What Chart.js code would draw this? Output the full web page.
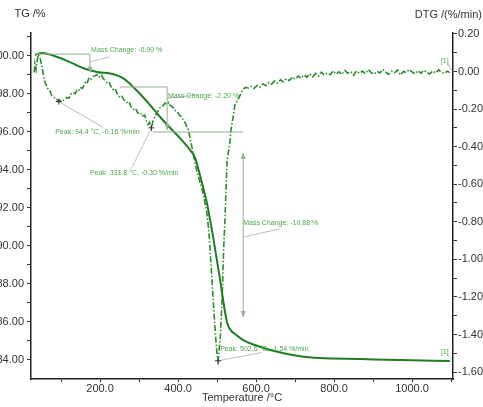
<!DOCTYPE html>
<html>
<head>
<meta charset="utf-8">
<script src="https://cdn.jsdelivr.net/npm/chart.js@4.4.1/dist/chart.umd.min.js"></script>
<style>
  html, body { margin: 0; padding: 0; background: #fff; overflow: hidden; }
  #wrap { position: relative; width: 483px; height: 407px; overflow: hidden; }
  #c { position: absolute; left: -20px; top: 0; }
</style>
</head>
<body>
<div id="wrap"><canvas id="c" width="503" height="407"></canvas></div>
<script>
// TG curve (mass %, left axis)
const tgTemp = [33, 51, 90, 123, 156, 192, 226, 259, 277, 303, 328, 354, 380, 405, 431, 444, 456, 474, 490, 508, 513, 526, 536, 546, 567, 597, 636, 713, 764, 867, 969, 1097];
const tgMass = [100.05, 100.16, 99.95, 99.68, 99.37, 99.16, 99.08, 98.84, 98.53, 98.00, 97.42, 96.79, 96.21, 95.68, 95.05, 94.63, 93.74, 92.26, 90.47, 88.20, 87.50, 85.95, 85.55, 85.37, 85.05, 84.79, 84.53, 84.20, 84.10, 84.05, 84.00, 83.95];

// DTG curve (%/min, right axis)
const dtgTemp = [31, 33, 36, 39, 41, 46, 51, 55, 59, 63, 67, 72, 76, 80, 86, 90, 94.4, 100,
  105, 110, 115, 120, 125, 131, 136, 141, 145, 149, 155, 162, 166, 172, 177, 182, 187, 192, 196, 200,
  204, 208, 213, 218, 223, 228, 233, 238, 244, 251, 256, 262, 269, 274, 280, 285, 291, 297, 303, 308,
  314, 319, 323, 327, 331.8, 336, 341, 347, 354, 360, 367, 372, 376, 380, 386, 391, 397, 403, 408, 413,
  420, 426, 433, 438, 449, 462, 474, 480, 489, 495, 500, 502.6, 508, 513, 515, 518, 520, 523, 526, 533,
  536, 541, 546, 554, 564, 572,
  580, 588, 595, 603, 610, 618, 625, 633, 640, 648, 655, 663, 670, 678, 685, 693, 700, 708, 715, 723,
  730, 738, 745, 753, 760, 768, 775, 783, 790, 798, 805, 813, 820, 828, 835, 843, 850, 858, 865, 873,
  880, 888, 895, 903, 910, 918, 925, 933, 940, 948, 955, 963, 970, 978, 985, 993, 1000, 1008, 1015, 1023,
  1030, 1038, 1045, 1053, 1060, 1068, 1075, 1083, 1090, 1097];
const dtgRate = [-0.005, 0.043, 0.010, 0.060, 0.090, 0.075, 0.027, -0.020, -0.059, -0.075, -0.096, -0.105, -0.128, -0.133, -0.145, -0.150, -0.160, -0.150,
  -0.154, -0.148, -0.138, -0.142, -0.121, -0.112, -0.118, -0.100, -0.104, -0.085, -0.090, -0.059, -0.066, -0.032, -0.040, -0.027, -0.022, -0.016, -0.030, -0.027,
  -0.020, -0.037, -0.048, -0.059, -0.055, -0.080, -0.096, -0.090, -0.118, -0.138, -0.132, -0.152, -0.165, -0.160, -0.190, -0.202, -0.196, -0.222, -0.218, -0.238,
  -0.232, -0.262, -0.282, -0.270, -0.300, -0.262, -0.240, -0.215, -0.192, -0.185, -0.168, -0.176, -0.165, -0.181, -0.188, -0.205, -0.213, -0.230, -0.240, -0.256,
  -0.280, -0.309, -0.373, -0.430, -0.538, -0.628, -0.751, -0.879, -1.177, -1.374, -1.507, -1.540, -1.427, -1.214, -1.070, -0.895, -0.804, -0.628, -0.469, -0.378,
  -0.309, -0.245, -0.176, -0.149, -0.106, -0.085,
  -0.088, -0.079, -0.090, -0.074, -0.083, -0.066, -0.076, -0.058, -0.067, -0.050, -0.061, -0.044, -0.055, -0.038, -0.049, -0.030, -0.041, -0.024, -0.036, -0.019,
  -0.031, -0.012, -0.028, -0.010, -0.024, -0.004, -0.020, -0.008, -0.017, 0.004, -0.013, -0.002, -0.016, 0.006, -0.009, -0.001, -0.020, 0.003, -0.010, 0.002,
  -0.012, 0.010, -0.006, -0.014, 0.001, -0.008, 0.012, -0.004, -0.015, 0.002, -0.007, 0.008, -0.018, 0.000, -0.006, 0.011, -0.003, -0.012, 0.004, -0.009,
  0.007, -0.005, -0.013, 0.003, -0.008, 0.009, -0.004, -0.011, 0.002, -0.006];

// axis ticks
const tempTicks = [100, 200, 300, 400, 500, 600, 700, 800, 900, 1000, 1100];
const tempLabels = [200, 400, 600, 800, 1000];
const tgTicks = [84, 85, 86, 87, 88, 89, 90, 91, 92, 93, 94, 95, 96, 97, 98, 99, 100, 101];
const tgLabels = [84, 86, 88, 90, 92, 94, 96, 98, 100];
const dtgTicks = [-1.6, -1.5, -1.4, -1.3, -1.2, -1.1, -1.0, -0.9, -0.8, -0.7, -0.6, -0.5, -0.4, -0.3, -0.2, -0.1, 0.0, 0.1, 0.2];
const dtgLabels = [-1.6, -1.4, -1.2, -1.0, -0.8, -0.6, -0.4, -0.2, 0.0, 0.2];

// peaks found on the DTG curve
const peakTemp = [94.4, 331.8, 502.6];
const peakRate = [-0.16, -0.30, -1.54];
// mass change steps on the TG curve
const massSteps = [-0.90, -2.20, -10.88];

const green = '#217d21';
const noteGreen = '#4aa84a';
const guideColor = '#93b093';
const leaderColor = '#a8ada8';

function hasLabel(list, v) {
  return list.some(l => Math.abs(l - v) < 1e-6);
}

const notes = {
  id: 'notes',
  afterDatasetsDraw(chart) {
    const { ctx, scales } = chart;
    const X = t => scales.x.getPixelForValue(t);
    const TG = v => scales.y.getPixelForValue(v);
    const DT = v => scales.y2.getPixelForValue(v);

    ctx.save();
    const line = (x1, y1, x2, y2, color, w) => {
      ctx.strokeStyle = color;
      ctx.lineWidth = w;
      ctx.beginPath();
      ctx.moveTo(x1, y1);
      ctx.lineTo(x2, y2);
      ctx.stroke();
    };
    const head = (x, y, dir) => {
      ctx.fillStyle = guideColor;
      ctx.beginPath();
      ctx.moveTo(x, y);
      ctx.lineTo(x - 2.5, y - 6 * dir);
      ctx.lineTo(x + 2.5, y - 6 * dir);
      ctx.closePath();
      ctx.fill();
    };
    const text = (s, x, y) => {
      ctx.fillStyle = noteGreen;
      ctx.font = '7px "Liberation Sans", Arial, sans-serif';
      ctx.textAlign = 'left';
      ctx.textBaseline = 'middle';
      ctx.fillText(s, x, y);
    };
    const fmt = v => v.toFixed(2) + ' %';

    // mass change -0.90
    line(X(33), TG(100.1), X(174), TG(100.1), guideColor, 1);
    line(X(174), TG(100.1), X(174), TG(99.14), guideColor, 1);
    head(X(174), TG(99.12), 1);
    line(X(174), TG(99.7), X(226), TG(99.96), leaderColor, 0.8);
    text('Mass Change: ' + fmt(massSteps[0]), X(177), TG(100.32));

    // mass change -2.20
    line(X(251), TG(98.37), X(372), TG(98.37), guideColor, 1);
    line(X(372), TG(98.37), X(372), TG(96.1), guideColor, 1);
    head(X(372), TG(96.1), 1);
    line(X(336), TG(96.0), X(567), TG(96.0), guideColor, 1);
    line(X(371), TG(97.77), X(448), TG(97.95), leaderColor, 0.8);
    text('Mass Change: ' + fmt(massSteps[1]), X(374), TG(97.9));

    // mass change -10.88
    line(X(567), TG(94.9), X(567), TG(86.26), guideColor, 1);
    head(X(567), TG(94.9), -1);
    head(X(567), TG(86.26), 1);
    line(X(567), TG(90.47), X(661), TG(90.9), leaderColor, 0.8);
    text('Mass Change: ' + fmt(massSteps[2]), X(567), TG(91.2));

    // peaks
    const peakText = [[85, -0.325], [174, -0.538], [508, -1.475]];
    const peakLead = [[208, -0.298], [282, -0.511], [615, -1.496]];
    peakTemp.forEach((t, i) => {
      const px = X(t), py = DT(peakRate[i]);
      line(px, py, X(peakLead[i][0]), DT(peakLead[i][1]), leaderColor, 0.8);
      line(px - 3, py, px + 3, py, '#333', 1);
      line(px, py - 3, px, py + 3, '#333', 1);
      text('Peak: ' + t.toFixed(1) + ' \u00B0C, ' + peakRate[i].toFixed(2) + ' %/min',
        X(peakText[i][0]), DT(peakText[i][1]));
    });

    // curve tags
    text('[1]', X(1074), DT(0.053));
    line(X(1090), DT(0.043), X(1103), DT(0.005), leaderColor, 0.8);
    text('[1]', X(1074), TG(84.42));
    line(X(1090), TG(84.3), X(1103), TG(84.0), leaderColor, 0.8);

    // axis titles on top
    ctx.fillStyle = '#333';
    ctx.font = '11px "Liberation Sans", Arial, sans-serif';
    ctx.textBaseline = 'middle';
    ctx.textAlign = 'center';
    ctx.fillText('TG /%', 50, 14);
    ctx.textAlign = 'right';
    ctx.fillText('DTG /(%/min)', 502, 15);
    ctx.restore();
  }
};

const tickFont = { family: '"Liberation Sans", Arial, sans-serif', size: 11 };

new Chart(document.getElementById('c'), {
  type: 'line',
  data: {
    datasets: [{
      label: 'TG',
      data: tgTemp.map((t, i) => ({ x: t, y: tgMass[i] })),
      yAxisID: 'y',
      borderColor: green,
      borderWidth: 2,
      pointRadius: 0,
      cubicInterpolationMode: 'monotone'
    }, {
      label: 'DTG',
      data: dtgTemp.map((t, i) => ({ x: t, y: dtgRate[i] })),
      yAxisID: 'y2',
      borderColor: '#2a8c2a',
      borderWidth: 1.6,
      borderDash: [6, 2, 1.5, 2],
      pointRadius: 0,
      tension: 0
    }]
  },
  options: {
    responsive: false,
    devicePixelRatio: 1,
    animation: false,
    layout: { padding: { top: 33, left: 0, right: 0, bottom: 0 } },
    plugins: { legend: { display: false }, tooltip: { enabled: false } },
    scales: {
      x: {
        type: 'linear',
        position: 'bottom',
        min: 23,
        max: 1105,
        afterFit: s => { s.height = 28; },
        afterBuildTicks: s => { s.ticks = tempTicks.map(v => ({ value: v })); },
        grid: { drawOnChartArea: false, tickLength: 3, color: '#333' },
        border: { color: '#222', width: 1.5 },
        ticks: {
          autoSkip: false, maxRotation: 0, padding: 0, color: '#333', font: tickFont,
          callback: v => hasLabel(tempLabels, v) ? v.toFixed(1) : ''
        },
        title: { display: true, text: 'Temperature /\u00B0C', color: '#333', font: tickFont, padding: { top: 0, bottom: 2 } }
      },
      y: {
        type: 'linear',
        position: 'left',
        min: 83,
        max: 101.21,
        afterFit: s => { s.width = 51; },
        afterBuildTicks: s => { s.ticks = tgTicks.map(v => ({ value: v })); },
        grid: { drawOnChartArea: false, tickLength: 4, color: '#333' },
        border: { color: '#222', width: 1.5 },
        ticks: {
          autoSkip: false, padding: 3, color: '#333', font: tickFont,
          callback: v => hasLabel(tgLabels, v) ? v.toFixed(2) : ''
        }
      },
      y2: {
        type: 'linear',
        position: 'right',
        min: -1.637,
        max: 0.205,
        afterFit: s => { s.width = 30; },
        afterBuildTicks: s => { s.ticks = dtgTicks.map(v => ({ value: v })); },
        grid: { drawOnChartArea: false, tickLength: 4, color: '#333' },
        border: { color: '#222', width: 1.5 },
        ticks: {
          autoSkip: false, padding: 1, color: '#333', font: tickFont,
          callback: v => hasLabel(dtgLabels, v) ? v.toFixed(2) : ''
        }
      }
    }
  },
  plugins: [notes]
});
</script>
</body>
</html>
